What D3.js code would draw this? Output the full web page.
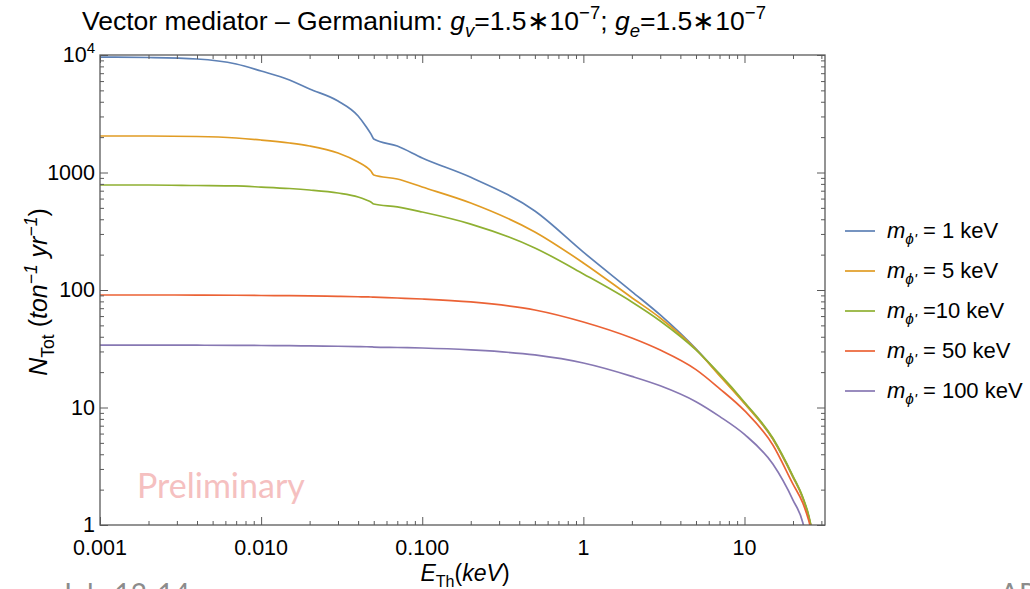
<!DOCTYPE html>
<html>
<head>
<meta charset="utf-8">
<script src="https://cdn.jsdelivr.net/npm/d3@7"></script>
<style>
  body { margin: 0; background: #fff; }
  svg { font-family: "Liberation Sans", Arial, sans-serif; display: block; }
</style>
</head>
<body>
<svg width="1030" height="589"></svg>
<script>
const energies = [0.001, 0.002, 0.004, 0.007, 0.01, 0.015, 0.02, 0.03, 0.04, 0.045, 0.048, 0.05,
  0.07, 0.1, 0.2, 0.5, 1, 2, 3, 5, 7, 10, 15, 20, 23, 25, 26];

// N_Tot per mediator mass
const mass1 = [9600, 9520, 9250, 8380, 7300, 6130, 5140, 4060, 3030, 2440, 2130, 1930,
  1680, 1330, 910, 470, 210, 97, 61.3, 31.5, 18.9, 10.9, 5.39, 2.56, 1.70, 1.19, 0.943];
const mass5 = [2045, 2045, 2025, 1966, 1890, 1783, 1681, 1466, 1229, 1114, 1030, 952,
  880, 752, 550, 312, 170, 86, 57.8, 31.2, 18.7, 10.8, 5.39, 2.56, 1.70, 1.19, 0.943];
const mass10 = [783, 783, 775, 768, 752, 731, 710, 669, 619, 583, 561, 539,
  509, 461, 364, 228, 137, 79.1, 54.5, 30.9, 19.3, 11.1, 5.50, 2.61, 1.73, 1.22, 0.962];
const mass50 = [90.7, 90.7, 90.5, 90.2, 89.8, 89.4, 89.0, 88.2, 87.6, 87.3, 87.2, 87.0,
  85.5, 83.8, 79.1, 67.6, 53.4, 39.0, 30.8, 21.0, 14.5, 9.4, 4.80, 2.23, 1.54, 1.10, 0.889];
const mass100 = [34.0, 34.0, 33.9, 33.8, 33.7, 33.6, 33.4, 33.2, 33.0, 32.9, 32.8, 32.7,
  32.4, 32.1, 30.9, 28.0, 23.9, 18.4, 15.3, 11.2, 8.4, 5.9, 3.3, 1.63, 1.05, 0.60, 0.375];

const legendLabels = [" = 1 keV", " = 5 keV", " =10 keV", " = 50 keV", " = 100 keV"];
const colors = ["#5e81b5", "#e19c24", "#8fb032", "#eb6235", "#8778b3"];

const xTicks = [0.001, 0.01, 0.1, 1, 10];
const xTickLabels = ["0.001", "0.010", "0.100", "1", "10"];
const yTicks = [1, 10, 100, 1000, 10000];
const yTickLabels = ["1", "10", "100", "1000", "10^4"];

const svg = d3.select("svg");
const margin = { left: 100, right: 205, top: 55, bottom: 64 };
const width = 1030, height = 589;
const frameColor = "#5a5a5a";

const xScale = d3.scaleLog().domain([0.001, 31.6]).range([margin.left, width - margin.right]);
const yScale = d3.scaleLog().domain([1, 10000]).range([height - margin.bottom, margin.top]);

const series = [mass1, mass5, mass10, mass50, mass100].map((vals, i) => ({
  color: colors[i],
  values: energies.map((e, j) => ({ e: e, n: vals[j] })),
}));

// minor tick positions 2..9 per decade
function minorTicks(scale) {
  const [a, b] = scale.domain();
  const out = [];
  for (let p = Math.floor(Math.log10(a)); p <= Math.ceil(Math.log10(b)); p++) {
    for (let k = 2; k <= 9; k++) {
      const v = k * Math.pow(10, p);
      if (v > a && v < b) out.push(v);
    }
  }
  return out;
}

// text with italic / sub / sup parts
function richText(sel, parts, size) {
  let shift = 0;
  parts.forEach((p) => {
    const target = p.sub ? size * 0.28 : p.sup ? -size * 0.4 : 0;
    sel.append("tspan")
      .attr("dy", target - shift)
      .attr("font-size", p.sub || p.sup ? size * 0.7 : size)
      .attr("font-style", p.it ? "italic" : "normal")
      .text(p.t);
    shift = target;
  });
}

function drawAxes() {
  const x0 = xScale.range()[0], x1 = xScale.range()[1];
  const y0 = yScale.range()[0], y1 = yScale.range()[1];
  const xMinor = minorTicks(xScale), yMinor = minorTicks(yScale);

  const gens = [
    [d3.axisBottom(xScale), `translate(0,${y0})`, xTicks, xMinor],
    [d3.axisTop(xScale), `translate(0,${y1})`, xTicks, xMinor],
    [d3.axisLeft(yScale), `translate(${x0},0)`, yTicks, yMinor],
    [d3.axisRight(yScale), `translate(${x1},0)`, yTicks, yMinor],
  ];
  gens.forEach(([gen, tr, major, minor]) => {
    const gMaj = svg.append("g").attr("transform", tr)
      .call(gen.tickValues(major).tickSize(-8).tickFormat(""));
    const gMin = svg.append("g").attr("transform", tr)
      .call(gen.tickValues(minor).tickSize(-4).tickFormat(""));
    [gMaj, gMin].forEach((g) => {
      g.select(".domain").remove();
      g.selectAll("line").attr("stroke", frameColor);
    });
  });

  svg.append("rect")
    .attr("x", x0).attr("y", y1)
    .attr("width", x1 - x0).attr("height", y0 - y1)
    .attr("fill", "none").attr("stroke", frameColor).attr("stroke-width", 1.3);

  // tick labels
  svg.append("g").selectAll("text").data(xTicks).enter().append("text")
    .attr("x", (d) => xScale(d))
    .attr("y", y0 + 30)
    .attr("text-anchor", "middle")
    .attr("font-size", 21.5)
    .text((d, i) => xTickLabels[i]);

  yTicks.forEach((d, i) => {
    const t = svg.append("text")
      .attr("x", x0 - 5)
      .attr("y", yScale(d) + 7)
      .attr("text-anchor", "end")
      .attr("font-size", 21.5);
    const lab = yTickLabels[i];
    if (lab.indexOf("^") > 0) {
      const [b, e] = lab.split("^");
      richText(t, [{ t: b }, { t: e, sup: true }], 21.5);
    } else {
      t.text(lab);
    }
  });
}

function drawLines() {
  svg.append("clipPath").attr("id", "plotClip")
    .append("rect")
    .attr("x", xScale.range()[0]).attr("y", yScale.range()[1])
    .attr("width", xScale.range()[1] - xScale.range()[0])
    .attr("height", yScale.range()[0] - yScale.range()[1]);

  const line = d3.line()
    .curve(d3.curveMonotoneX)
    .x((d) => xScale(d.e))
    .y((d) => yScale(d.n));

  svg.append("g").attr("clip-path", "url(#plotClip)")
    .selectAll("path").data(series).enter().append("path")
    .attr("fill", "none")
    .attr("stroke", (d) => d.color)
    .attr("stroke-width", 1.7)
    .attr("d", (d) => line(d.values));
}

function drawLegend() {
  series.forEach((s, i) => {
    const y = 231 + i * 40;
    svg.append("line")
      .attr("x1", 845).attr("x2", 875).attr("y1", y).attr("y2", y)
      .attr("stroke", s.color).attr("stroke-width", 1.7);
    const t = svg.append("text").attr("x", 887).attr("y", y + 7);
    richText(t, [{ t: "m", it: true }, { t: "ϕ'", it: true, sub: true }, { t: legendLabels[i] }], 22);
  });
}

function drawLabels() {
  const title = svg.append("text")
    .attr("x", 424).attr("y", 30).attr("text-anchor", "middle");
  richText(title, [
    { t: "Vector mediator \u2013 Germanium: " },
    { t: "g", it: true }, { t: "v", it: true, sub: true },
    { t: "=1.5\u221710" }, { t: "\u22127", sup: true },
    { t: "; " },
    { t: "g", it: true }, { t: "e", it: true, sub: true },
    { t: "=1.5\u221710" }, { t: "\u22127", sup: true },
  ], 26.5);

  const xl = svg.append("text")
    .attr("x", 465).attr("y", 581).attr("text-anchor", "middle");
  richText(xl, [{ t: "E", it: true }, { t: "Th", sub: true }, { t: "(" }, { t: "keV", it: true }, { t: ")" }], 23);

  const yl = svg.append("text")
    .attr("transform", "translate(47,292) rotate(-90)")
    .attr("text-anchor", "middle");
  richText(yl, [
    { t: "N", it: true }, { t: "Tot", sub: true }, { t: " (" },
    { t: "ton", it: true }, { t: "\u22121", it: true, sup: true },
    { t: " yr", it: true }, { t: "\u22121", it: true, sup: true }, { t: ")" },
  ], 25);

  svg.append("text")
    .attr("x", 137).attr("y", 498)
    .attr("font-family", "Lato, 'Open Sans', sans-serif")
    .attr("font-size", 34)
    .attr("fill", "#f5c0c0")
    .text("Preliminary");

  // bits of the slide underneath, cut by the bottom edge as in the source
  svg.append("text").attr("x", 60).attr("y", 604)
    .attr("font-family", "Lato, sans-serif").attr("font-size", 28).attr("fill", "#8c8c8c")
    .text("July 12-14");
  svg.append("text").attr("x", 1000).attr("y", 604)
    .attr("font-family", "Lato, sans-serif").attr("font-size", 28).attr("fill", "#8c8c8c")
    .text("AP");
}

drawLines();
drawAxes();
drawLegend();
drawLabels();
</script>
</body>
</html>
